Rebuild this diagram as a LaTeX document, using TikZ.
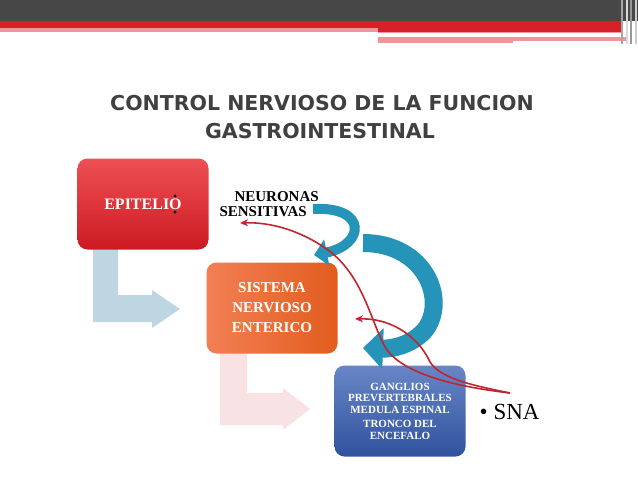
\documentclass[tikz,border=0pt]{standalone}
\usepackage{fontspec}
\setmainfont{Liberation Serif}
\newfontfamily\titlefont{DejaVu Sans}
\usetikzlibrary{positioning,arrows.meta}
\definecolor{barragris}{RGB}{71,71,71}
\definecolor{barraroja}{RGB}{215,32,42}
\definecolor{barrarosa}{RGB}{238,150,156}
\definecolor{titulogris}{RGB}{64,64,64}
\definecolor{azulclaro}{RGB}{189,214,226}
\definecolor{rosaclaro}{RGB}{248,226,227}
\definecolor{turquesa}{RGB}{38,148,184}
\definecolor{flecharoja}{RGB}{192,38,45}
\begin{document}
\begin{tikzpicture}[x=1pt,y=-1pt,
    caja/.style={rounded corners=10pt, minimum width=131pt, minimum height=91pt, text=white, font=\bfseries, align=center},
    titulo/.style={font=\titlefont\bfseries\fontsize{20.5}{21}\selectfont, text=titulogris},
    flecha/.style={flecharoja, line width=1.6pt, -{Stealth[length=8pt,width=7pt]}},
    curva/.style={turquesa, line cap=butt}]
    \useasboundingbox (0,0) rectangle (638,479);

    \fill[barragris] (0,0) rectangle (638,20.7);
    \fill[barraroja] (0,20.7) rectangle (622,28.3);
    \fill[barrarosa] (0,28.3) rectangle (378,31.7);
    \fill[barraroja] (378,28.3) rectangle (622,31.7);
    \fill[barrarosa] (378,31.7) rectangle (622,33.3);
    \fill[barrarosa] (378,36.7) rectangle (513,43.3);
    \fill[barrarosa] (513,36.7) rectangle (627,41);
    \fill[gray!70] (621,0) rectangle (623,44);
    \fill[gray!30] (626,0) rectangle (627.5,44);
    \fill[gray!80] (630,0) rectangle (632,44);
    \fill[gray!40] (635,0) rectangle (637,44);

    \node[titulo] (titulo1) at (322,103) {CONTROL NERVIOSO DE LA FUNCION};
    \node[titulo] (titulo2) at (320,131) {GASTROINTESTINAL};

    \fill[azulclaro] (93,245) -- (118,245) -- (118,295) -- (152,295) -- (152,290) -- (180,309)
        -- (152,328) -- (152,322) -- (93,322) -- cycle;
    \fill[rosaclaro] (220,350) -- (247,350) -- (247,393) -- (283,393) -- (283,388) -- (310,409)
        -- (283,430) -- (283,425) -- (220,425) -- cycle;

    \node[caja, top color={rgb,255:red,238;green,80;blue,84}, bottom color={rgb,255:red,204;green,26;blue,34},
        font=\bfseries\fontsize{16}{19}\selectfont] (epitelio) at (143,204) {EPITELIO};
    \node[caja, left color={rgb,255:red,242;green,128;blue,84}, right color={rgb,255:red,226;green,92;blue,30},
        font=\bfseries\fontsize{15}{20}\selectfont] (sne) at (272,308) {SISTEMA\\NERVIOSO\\ENTERICO};
    \node[caja, top color={rgb,255:red,104;green,134;blue,198}, bottom color={rgb,255:red,48;green,82;blue,158},
        font=\bfseries\fontsize{11}{11.5}\selectfont] (ganglios) at (400,411)
        {GANGLIOS\\PREVERTEBRALES\\MEDULA ESPINAL\\[3pt]TRONCO DEL\\ENCEFALO};

    \fill (175,196) circle (1.6);
    \fill (175,212) circle (1.6);

    \node[font=\bfseries\fontsize{15}{15}\selectfont, anchor=west] (neuronas) at (231,197) {NEURONAS};
    \node[font=\bfseries\fontsize{15}{15}\selectfont, anchor=west] (sensitivas) at (216,212) {SENSITIVAS};
    \node[font=\fontsize{23}{23}\selectfont, anchor=west] (sna) at (476,412) {\textbullet\hspace{6pt}SNA};

    \draw[curva, line width=10pt, -{Triangle[length=13pt,width=26pt]}]
        (313,209) .. controls (368,206) and (365,245) .. (314,255);
    \draw[curva, line width=18pt, -{Triangle[length=20pt,width=40pt]}]
        (363,243) .. controls (425,243) and (448,300) .. (425,330)
        .. controls (412,345) and (392,349) .. (363,348);

    \coordinate (snaout) at (510,393);
    \coordinate (haciasens) at (240,223);
    \coordinate (haciasne) at (355,319);
    \draw[flecha] (snaout) .. controls (450,386) and (398,372) .. (384,345)
        .. controls (370,318) and (362,275) .. (328,250)
        .. controls (300,230) and (270,222) .. (haciasens);
    \draw[flecha] (snaout) .. controls (470,385) and (440,378) .. (430,362)
        .. controls (420,340) and (395,318) .. (haciasne);
\end{tikzpicture}
\end{document}
